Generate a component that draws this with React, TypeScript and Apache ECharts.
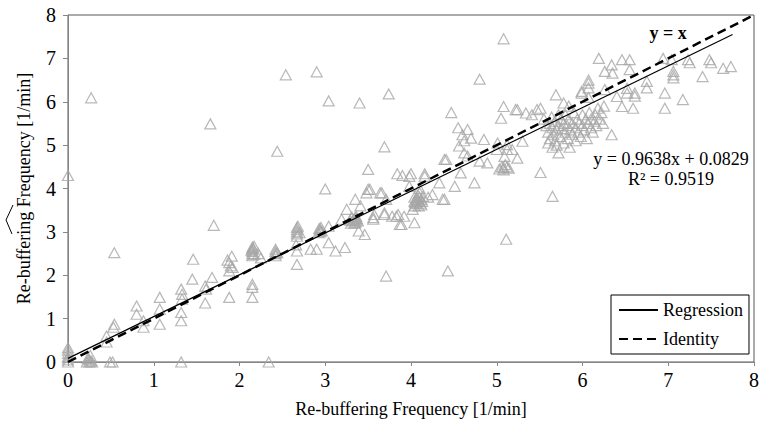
import React, { useEffect, useRef } from "react";
import * as echarts from "echarts";

// ---- data ----
const axisTicks = [0, 1, 2, 3, 4, 5, 6, 7, 8];

const originPoints: number[][] = [
  [0, 0], [0, 0.05], [0, 0.12], [0, 0.2], [0, 0.27], [0, 0.33], [0, 0.1],
  [0.22, 0], [0.25, 0], [0.27, 0.02], [0.23, 0.08], [0.26, 0.15], [0.28, 0], [0.25, 0.05],
];

const lowPoints: number[][] = [
  [0.45, 0.6], [0.45, 0.46], [0.49, 0], [0.52, 0], [0.54, 0.87], [0.53, 0.8], [0.54, 2.52],
  [0.8, 1.29], [0.8, 1.1], [0.88, 0.95], [0.88, 0.8],
  [1.07, 1.49], [1.07, 1.22], [1.07, 0.87],
  [1.32, 1.68], [1.33, 1.56], [1.33, 1.45], [1.32, 1.14], [1.32, 0.95], [1.32, 0],
  [1.45, 1.91], [1.46, 2.37],
  [1.6, 1.75], [1.61, 1.68], [1.6, 1.36], [1.68, 1.95], [1.7, 3.15],
];

const secondPoints: number[][] = [
  [1.88, 1.49], [1.88, 2.1], [1.88, 2.29], [1.91, 2.44], [1.92, 2.18], [1.86, 2.35], [1.9, 2.22],
  [2.15, 2.45], [2.15, 2.5], [2.15, 2.55], [2.15, 2.6], [2.15, 2.65], [2.17, 2.48], [2.14, 2.58],
  [2.16, 2.62], [2.15, 1.79], [2.15, 1.72], [2.15, 1.49], [2.17, 2.67],
  [2.25, 2.4], [2.22, 2.5],
  [2.42, 2.45], [2.42, 2.5], [2.42, 2.55], [2.42, 2.6], [2.44, 2.52],
  [2.34, 0],
];

const thirdPoints: number[][] = [
  [2.67, 2.9], [2.67, 2.95], [2.67, 3.0], [2.67, 3.05], [2.67, 3.1], [2.68, 3.13], [2.66, 2.7],
  [2.67, 2.56], [2.67, 2.25], [2.7, 2.98],
  [2.83, 2.6], [2.9, 2.6],
  [2.92, 2.98], [2.94, 3.0], [2.94, 3.05], [2.95, 3.1], [2.96, 3.02], [2.93, 3.08],
  [3.04, 3.13], [3.04, 2.75], [3.12, 2.56], [3.23, 2.64],
  [3.19, 3.29], [3.25, 3.52], [3.0, 3.99],
];

const fourthPoints: number[][] = [
  [3.3, 3.2], [3.32, 3.25], [3.34, 3.3], [3.35, 3.22], [3.36, 3.36], [3.33, 3.28], [3.37, 3.3],
  [3.31, 3.34], [3.38, 3.25], [3.35, 3.32], [3.29, 3.27], [3.34, 3.2], [3.36, 3.26],
  [3.35, 3.75], [3.41, 3.6], [3.39, 3.02], [3.46, 2.94], [3.48, 3.9], [3.5, 4.44], [3.52, 3.98],
  [3.5, 3.98], [3.56, 3.29], [3.57, 3.4], [3.56, 3.33], [3.64, 3.9], [3.66, 3.9], [3.69, 3.4],
  [3.69, 3.44], [3.71, 3.75], [3.78, 3.36], [3.83, 3.36], [3.84, 4.34], [3.85, 3.4], [3.87, 3.17],
  [3.89, 3.17], [3.71, 1.98],
];

const fifthPoints: number[][] = [
  [3.98, 4.28], [3.98, 4.05], [4.0, 4.34], [4.02, 3.52], [4.04, 3.21], [4.04, 3.6], [4.04, 3.7],
  [4.04, 3.8], [4.06, 3.65], [4.06, 3.75], [4.08, 3.72], [4.08, 3.85], [4.1, 3.7], [4.1, 3.8],
  [4.1, 3.9], [4.1, 4.0], [4.12, 3.75], [4.12, 3.62], [4.14, 3.82], [4.05, 3.68], [4.07, 3.78],
  [4.09, 3.6], [4.11, 3.66], [4.13, 3.7], [4.16, 4.34], [4.16, 4.28], [4.2, 3.8], [4.25, 3.86],
  [3.92, 3.36], [3.9, 4.3],
];

const sixthPoints: number[][] = [
  [4.33, 4.13], [4.37, 3.75], [4.39, 3.75], [4.41, 4.67], [4.39, 4.67], [4.43, 2.1], [4.47, 5.75],
  [4.51, 4.05], [4.55, 5.4], [4.56, 4.98], [4.58, 4.36], [4.6, 5.24], [4.62, 5.1], [4.62, 4.82],
  [4.66, 5.36], [4.66, 4.75], [4.7, 5.16], [4.74, 4.13], [4.8, 4.63], [4.8, 6.52], [4.85, 5.13],
  [4.89, 4.59], [5.0, 4.9], [5.01, 5.05], [5.03, 4.45], [5.06, 4.5], [5.08, 4.43], [5.1, 4.55],
  [5.12, 4.5], [5.14, 4.47], [5.08, 4.48], [5.09, 4.74], [5.12, 5.01], [5.12, 4.9], [5.18, 4.9],
  [5.24, 4.7], [5.3, 5.09], [5.05, 5.62], [5.08, 5.89], [5.08, 7.45], [5.11, 2.83], [5.22, 5.82],
  [5.24, 5.82], [5.34, 5.74], [5.41, 5.7], [5.47, 5.82], [5.51, 5.85],
];

const denseCluster: number[][] = [
  [5.55, 5.6], [5.58, 5.45], [5.6, 5.3], [5.62, 5.5], [5.62, 5.15], [5.64, 5.65], [5.65, 5.4],
  [5.66, 5.25], [5.68, 5.55], [5.68, 5.1], [5.7, 5.35], [5.72, 5.7], [5.72, 5.45], [5.74, 5.2],
  [5.75, 5.6], [5.76, 5.38], [5.78, 5.5], [5.78, 5.05], [5.8, 5.3], [5.8, 5.7], [5.82, 5.45],
  [5.83, 5.15], [5.84, 5.6], [5.86, 5.35], [5.88, 5.5], [5.88, 5.25], [5.9, 5.75], [5.92, 5.4],
  [5.92, 5.1], [5.94, 5.6], [5.95, 5.3], [5.96, 5.5], [5.98, 5.2], [6.0, 5.7], [6.0, 5.45],
  [6.02, 5.35], [6.04, 5.6], [6.05, 5.15], [6.06, 5.5], [6.08, 5.75], [6.1, 5.4], [6.1, 5.6],
  [6.12, 5.3], [6.14, 5.55], [6.15, 5.7], [6.16, 5.45], [6.18, 5.85], [6.2, 5.6], [6.22, 5.75],
  [6.24, 5.5], [6.25, 5.9], [5.7, 5.0], [5.6, 5.05], [5.85, 4.95], [5.65, 4.95],
];

const highPoints: number[][] = [
  [5.69, 6.16], [5.78, 5.97], [5.84, 5.9], [5.99, 6.2], [5.99, 6.24], [6.07, 6.43], [6.07, 6.1],
  [6.07, 6.5], [6.07, 6.32], [6.19, 7.0], [6.26, 6.7], [6.26, 6.28], [6.34, 6.85], [6.35, 6.66],
  [6.34, 5.24], [6.4, 6.12], [6.46, 6.97], [6.46, 5.89], [6.52, 6.31], [6.52, 6.2], [6.55, 6.97],
  [6.55, 6.74], [6.59, 5.85], [6.61, 6.2], [6.61, 6.13], [6.75, 6.47], [6.75, 6.32], [6.94, 7.0],
  [6.96, 6.2], [6.96, 5.85], [7.04, 6.97], [7.06, 6.7], [7.06, 6.62], [7.06, 6.55], [7.17, 6.05],
  [7.23, 6.97], [7.25, 6.9], [7.4, 6.58], [7.48, 6.97], [7.5, 6.9], [7.64, 6.77], [7.73, 6.81],
  [5.72, 4.82], [5.51, 4.37], [5.65, 3.82],
];

const outlierPoints: number[][] = [
  [0, 4.3], [0.27, 6.09], [1.66, 5.49], [2.54, 6.62], [2.9, 6.69], [3.04, 6.02], [3.4, 5.97],
  [3.74, 6.18], [2.44, 4.86], [3.69, 4.96],
];

const regressionSlope = 0.9638;
const regressionIntercept = 0.0829;
const regressionRange = [0, 7.75];
const identityRange = [0, 8];

const FONT = "Liberation Serif, Times New Roman, serif";

export default function App() {
  const ref = useRef<HTMLDivElement>(null);

  useEffect(() => {
    if (!ref.current) return;
    document.body.style.margin = "0";
    const chart = echarts.init(ref.current, undefined, { renderer: "svg" });

    const scatterData = [
      ...originPoints, ...lowPoints, ...secondPoints, ...thirdPoints, ...fourthPoints,
      ...fifthPoints, ...sixthPoints, ...denseCluster, ...highPoints, ...outlierPoints,
    ];
    const regressionData = regressionRange.map((x) => [x, regressionSlope * x + regressionIntercept]);
    const identityData = identityRange.map((x) => [x, x]);

    const axisCommon = {
      type: "value" as const,
      min: axisTicks[0],
      max: axisTicks[axisTicks.length - 1],
      interval: 1,
      splitLine: { show: false },
      axisLine: { show: true, onZero: false, lineStyle: { color: "#868686", width: 1 } },
      axisTick: { show: true, inside: false, length: 5, lineStyle: { color: "#868686" } },
      nameLocation: "middle" as const,
      nameTextStyle: { fontFamily: FONT, fontSize: 18, color: "#000" },
    };

    chart.setOption({
      animation: false,
      backgroundColor: "#fff",
      grid: {
        left: 68, right: 4, top: 15, bottom: 60,
        show: true, borderColor: "#595959", borderWidth: 1, backgroundColor: "transparent",
      },
      xAxis: {
        ...axisCommon,
        name: "Re-buffering Frequency [1/min]",
        nameGap: 38,
        axisTick: { show: true, inside: false, length: 4, lineStyle: { color: "#868686" } },
        axisLabel: { fontFamily: FONT, fontSize: 20, color: "#000", margin: 8 },
      },
      yAxis: {
        ...axisCommon,
        name: "Re-buffering Frequency [1/min]",
        nameGap: 35,
        axisLabel: { fontFamily: FONT, fontSize: 20, color: "#000", margin: 12 },
      },
      legend: {
        orient: "vertical",
        right: 13,
        bottom: 69,
        padding: [6, 6, 6, 7],
        itemGap: 11,
        itemWidth: 39,
        itemHeight: 14,
        borderColor: "#000",
        borderWidth: 1,
        backgroundColor: "#fff",
        itemStyle: { opacity: 0 },
        data: ["Regression", "Identity"],
        textStyle: { fontFamily: FONT, fontSize: 18, color: "#000" },
      },
      series: [
        {
          type: "scatter",
          name: "Data",
          data: scatterData,
          symbol: "triangle",
          symbolSize: [11, 10],
          clip: false,
          itemStyle: { color: "transparent", borderColor: "#a6a6a6", borderWidth: 1.2 },
          z: 2,
        },
        {
          type: "line",
          name: "Regression",
          data: regressionData,
          symbol: "none",
          showSymbol: false,
          itemStyle: { color: "#000" },
          lineStyle: { color: "#000", width: 1.2 },
          z: 3,
        },
        {
          type: "line",
          name: "Identity",
          data: identityData,
          symbol: "none",
          showSymbol: false,
          itemStyle: { color: "#000" },
          lineStyle: { color: "#000", width: 2.5, type: [9, 5] },
          z: 4,
        },
      ],
      graphic: [
        {
          type: "text",
          x: 668,
          y: 33,
          style: {
            text: "y = x",
            fontFamily: FONT,
            fontSize: 18,
            fontWeight: "bold",
            fill: "#000",
            align: "center",
            verticalAlign: "middle",
          },
        },
        {
          type: "text",
          x: 671,
          y: 169,
          style: {
            text: "y = 0.9638x + 0.0829\nR² = 0.9519",
            fontFamily: FONT,
            fontSize: 18,
            lineHeight: 20,
            fill: "#000",
            align: "center",
            verticalAlign: "middle",
          },
        },
        {
          type: "polyline",
          shape: { points: [[12, 234], [6, 220], [13, 205]] },
          style: { stroke: "#000", lineWidth: 1, fill: "none" },
        },
      ],
    });

    return () => chart.dispose();
  }, []);

  return (
    <div
      ref={ref}
      style={{ position: "absolute", left: 0, top: 0, width: 762, height: 423 }}
    />
  );
}
